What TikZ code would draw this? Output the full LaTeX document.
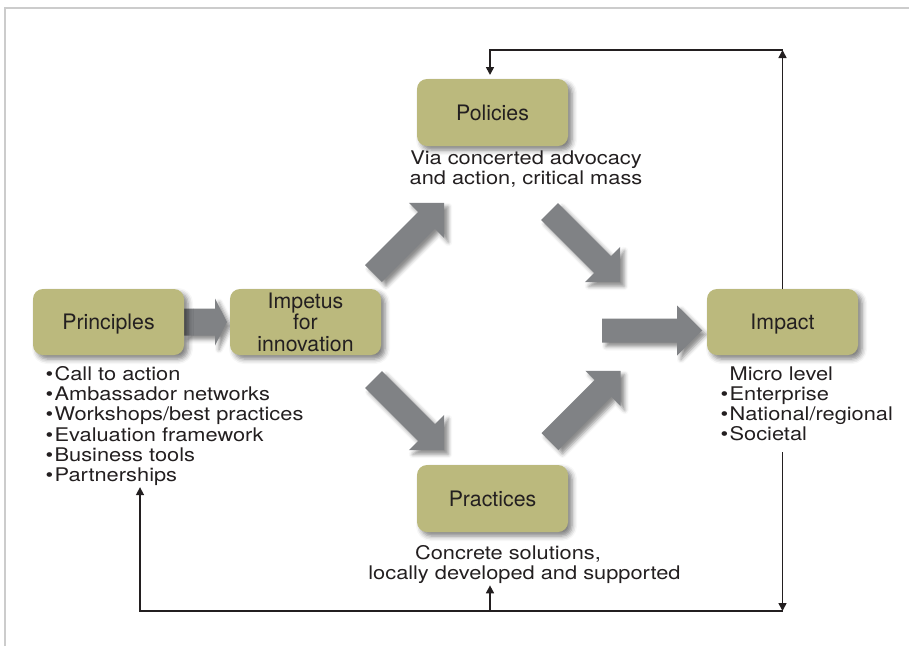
\documentclass[tikz,border=0pt]{standalone}
\usepackage{fontspec}
\setmainfont{TeX Gyre Heros}
\newfontfamily\listfont[FakeStretch=1.16]{TeX Gyre Heros}
\usetikzlibrary{arrows.meta,calc,shadows.blur}
\definecolor{boxolive}{RGB}{187,185,125}
\definecolor{arrowgray}{RGB}{128,130,133}
\definecolor{inkdark}{RGB}{35,31,32}
\definecolor{framegray}{RGB}{204,204,204}
\tikzset{
  stepbox/.style={rounded corners=10pt, fill=boxolive, minimum width=151pt, minimum height=66pt,
    align=center, text=inkdark, text depth=0pt, font=\fontsize{21.3}{21.5}\selectfont,
    blur shadow={shadow xshift=4pt, shadow yshift=-4pt, shadow blur radius=5pt, shadow opacity=50}},
  listtext/.style={align=left, text=inkdark, font=\listfont\fontsize{18.8}{20.2}\selectfont},
  notetext/.style={align=center, text=inkdark, font=\listfont\fontsize{18.8}{20.2}\selectfont},
  fatarrow/.style={fill=arrowgray,
    blur shadow={shadow xshift=4pt, shadow yshift=-4pt, shadow blur radius=4pt, shadow opacity=45}},
  loopline/.style={draw=inkdark, line width=1.6pt},
  looptip/.style={-{Triangle[length=8pt,width=8pt]}},
}
% block arrow: tail, angle
\newcommand{\bigarrow}[2]{%
  \path[fatarrow] ($(#1)+(#2+90:12)$) -- ($(#1)+(#2:75)+(#2+90:12)$)
    -- ($(#1)+(#2:75)+(#2+90:25)$) -- ($(#1)+(#2:100)$)
    -- ($(#1)+(#2:75)+(#2-90:25)$) -- ($(#1)+(#2:75)+(#2-90:12)$)
    -- ($(#1)+(#2-90:12)$) -- cycle;}
\begin{document}
\begin{tikzpicture}[y=-1pt, x=1pt, inner sep=0pt, outer sep=0pt]
\useasboundingbox (0,0) rectangle (909,646);
\draw[framegray, line width=1.5pt] (5,646) -- (5,8) -- (909,8);

% gray block arrows
\path[fatarrow] (184,308.5) -- (215,308.5) -- (215,298.5) -- (227,322) -- (215,345.5)
  -- (215,335.5) -- (184,335.5) -- cycle;
\bigarrow{373.5,273.5}{-45}
\bigarrow{549.5,211.5}{45}
\bigarrow{373.5,379.5}{45}
\bigarrow{550,441.5}{-45}
\bigarrow{602,330.5}{0}

% boxes
\node[stepbox] (principles) at (108.5,322) {Principles};
\node[stepbox] (impetus) at (305.5,322) {Impetus\\for\\innovation};
\node[stepbox, minimum height=67pt] (policies) at (492.5,112.5) {Policies};
\node[stepbox, minimum height=67pt] (practices) at (492.5,498.5) {Practices};
\node[stepbox] (impact) at (782.5,322) {Impact};

% texts
\node[notetext, anchor=north] (policiesNote) at (526,151) {Via concerted advocacy\\and action, critical mass};
\node[notetext, anchor=north] (practicesNote) at (524.5,545.5) {Concrete solutions,\hspace*{33pt}\\locally developed and supported};
\node[listtext, anchor=north west] (principlesList) at (45.5,366.5)
  {•\kern1.5pt Call to action\\•\kern1.5pt Ambassador networks\\•\kern1.5pt Workshops/best practices\\
   •\kern1.5pt Evaluation framework\\•\kern1.5pt Business tools\\•\kern1.5pt Partnerships};
\node[listtext, anchor=north west] (impactList) at (720.5,366.5)
  {{\color{white}•}\kern1.5pt Micro level\\•\kern1.5pt Enterprise\\•\kern1.5pt National/regional\\•\kern1.5pt Societal};

% feedback loops
\coordinate (topR) at (782.5,50);
\coordinate (topL) at (490,50);
\coordinate (fbStart) at (782.5,452);
\coordinate (botR) at (782.5,611);
\coordinate (botM) at (490,611);
\coordinate (botL) at (140,611);
\draw[loopline, looptip] (impact.north) -- (topR);
\draw[loopline, looptip, shorten >=4pt] (topR) -- (topL) -- (topL |- policies.north);
\draw[loopline, looptip] (fbStart) -- (botR);
\draw[loopline, looptip, shorten >=1.5pt] (botR) -- (botL) -- (botL |- principlesList.south);
\draw[loopline, looptip, shorten >=1.5pt] (botM) -- (botM |- practicesNote.south);
\end{tikzpicture}
\end{document}
